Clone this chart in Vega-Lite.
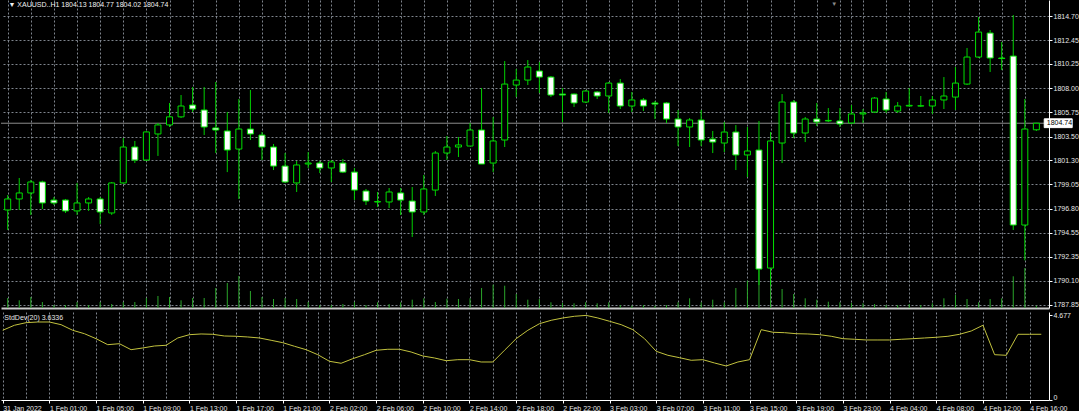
{
  "$schema": "https://vega.github.io/schema/vega-lite/v6.json",
  "background": "#000000",
  "padding": 0,
  "autosize": {"type": "pad"},
  "config": {"view": {"stroke": null}, "font": "Liberation Sans", "axis": {"labelOverlap": false}},
  "spacing": 2,
  "datasets": {
    "bars": [
      {"i":0,"o":1796.68,"h":1798.07,"l":1794.82,"c":1797.70,"v":300,"sd":3.854},
      {"i":1,"o":1797.70,"h":1799.65,"l":1796.68,"c":1798.26,"v":231,"sd":4.131},
      {"i":2,"o":1798.26,"h":1799.47,"l":1796.22,"c":1799.28,"v":330,"sd":4.275},
      {"i":3,"o":1799.28,"h":1799.40,"l":1796.77,"c":1797.33,"v":180,"sd":4.313},
      {"i":4,"o":1797.60,"h":1797.88,"l":1797.14,"c":1797.33,"v":90,"sd":4.313},
      {"i":5,"o":1797.60,"h":1797.70,"l":1796.40,"c":1796.59,"v":90,"sd":4.164},
      {"i":6,"o":1796.59,"h":1799.19,"l":1796.22,"c":1797.33,"v":180,"sd":3.854},
      {"i":7,"o":1797.33,"h":1797.88,"l":1796.59,"c":1797.70,"v":90,"sd":3.666},
      {"i":8,"o":1797.70,"h":1797.88,"l":1795.37,"c":1796.49,"v":180,"sd":3.390},
      {"i":9,"o":1796.40,"h":1799.28,"l":1796.22,"c":1799.19,"v":120,"sd":3.058},
      {"i":10,"o":1799.19,"h":1803.36,"l":1799.09,"c":1802.53,"v":180,"sd":3.113},
      {"i":11,"o":1802.53,"h":1803.09,"l":1801.04,"c":1801.32,"v":180,"sd":2.782},
      {"i":12,"o":1801.32,"h":1804.00,"l":1801.23,"c":1803.93,"v":300,"sd":2.876},
      {"i":13,"o":1803.74,"h":1804.76,"l":1801.70,"c":1804.58,"v":360,"sd":2.986},
      {"i":14,"o":1804.58,"h":1806.62,"l":1804.39,"c":1805.33,"v":330,"sd":3.025},
      {"i":15,"o":1805.33,"h":1807.36,"l":1805.22,"c":1806.34,"v":231,"sd":3.429},
      {"i":16,"o":1806.43,"h":1808.10,"l":1805.78,"c":1806.06,"v":300,"sd":3.611},
      {"i":17,"o":1805.97,"h":1808.10,"l":1803.64,"c":1804.39,"v":300,"sd":3.650},
      {"i":18,"o":1804.30,"h":1808.57,"l":1801.97,"c":1804.11,"v":600,"sd":3.633},
      {"i":19,"o":1804.02,"h":1805.78,"l":1800.20,"c":1802.25,"v":750,"sd":3.539},
      {"i":20,"o":1802.34,"h":1806.99,"l":1797.70,"c":1804.20,"v":960,"sd":3.523},
      {"i":21,"o":1804.20,"h":1807.83,"l":1803.18,"c":1803.74,"v":510,"sd":3.484},
      {"i":22,"o":1803.64,"h":1803.93,"l":1801.32,"c":1802.53,"v":330,"sd":3.429},
      {"i":23,"o":1802.53,"h":1802.81,"l":1800.39,"c":1800.76,"v":270,"sd":3.301},
      {"i":24,"o":1800.76,"h":1801.97,"l":1799.19,"c":1799.28,"v":300,"sd":3.169},
      {"i":25,"o":1799.19,"h":1801.23,"l":1798.35,"c":1800.86,"v":270,"sd":2.970},
      {"i":26,"o":1800.95,"h":1802.06,"l":1800.58,"c":1801.04,"v":180,"sd":2.782},
      {"i":27,"o":1801.04,"h":1801.23,"l":1800.11,"c":1800.58,"v":90,"sd":2.505},
      {"i":28,"o":1800.58,"h":1801.32,"l":1799.28,"c":1801.14,"v":90,"sd":2.140},
      {"i":29,"o":1801.04,"h":1801.42,"l":1800.11,"c":1800.20,"v":120,"sd":2.030},
      {"i":30,"o":1800.20,"h":1800.58,"l":1797.60,"c":1798.53,"v":180,"sd":2.284},
      {"i":31,"o":1798.44,"h":1798.63,"l":1797.14,"c":1797.51,"v":90,"sd":2.505},
      {"i":32,"o":1797.42,"h":1798.35,"l":1796.96,"c":1797.46,"v":171,"sd":2.748},
      {"i":33,"o":1797.42,"h":1798.72,"l":1796.86,"c":1798.35,"v":120,"sd":2.804},
      {"i":34,"o":1798.26,"h":1798.72,"l":1796.21,"c":1797.60,"v":171,"sd":2.804},
      {"i":35,"o":1797.51,"h":1798.81,"l":1794.17,"c":1796.49,"v":249,"sd":2.654},
      {"i":36,"o":1796.49,"h":1799.93,"l":1796.21,"c":1798.63,"v":291,"sd":2.433},
      {"i":37,"o":1798.53,"h":1802.16,"l":1797.98,"c":1801.97,"v":180,"sd":2.323},
      {"i":38,"o":1801.97,"h":1803.55,"l":1801.32,"c":1802.53,"v":279,"sd":2.173},
      {"i":39,"o":1802.53,"h":1803.46,"l":1801.60,"c":1802.72,"v":270,"sd":2.229},
      {"i":40,"o":1802.62,"h":1804.76,"l":1802.62,"c":1804.11,"v":291,"sd":2.229},
      {"i":41,"o":1804.11,"h":1808.01,"l":1800.95,"c":1800.95,"v":600,"sd":2.101},
      {"i":42,"o":1801.04,"h":1805.31,"l":1800.20,"c":1803.09,"v":699,"sd":2.101},
      {"i":43,"o":1803.18,"h":1810.52,"l":1802.53,"c":1808.38,"v":669,"sd":2.748},
      {"i":44,"o":1808.29,"h":1809.78,"l":1807.17,"c":1808.75,"v":420,"sd":3.390},
      {"i":45,"o":1808.75,"h":1810.61,"l":1808.29,"c":1809.96,"v":249,"sd":3.854},
      {"i":46,"o":1809.59,"h":1810.43,"l":1807.55,"c":1809.03,"v":270,"sd":4.219},
      {"i":47,"o":1809.03,"h":1809.13,"l":1807.17,"c":1807.36,"v":171,"sd":4.407},
      {"i":48,"o":1807.45,"h":1808.01,"l":1804.85,"c":1807.36,"v":150,"sd":4.535},
      {"i":49,"o":1807.45,"h":1807.50,"l":1806.25,"c":1806.62,"v":141,"sd":4.629},
      {"i":50,"o":1806.71,"h":1807.83,"l":1806.62,"c":1807.73,"v":171,"sd":4.677},
      {"i":51,"o":1807.64,"h":1807.73,"l":1806.99,"c":1807.27,"v":141,"sd":4.535},
      {"i":52,"o":1807.27,"h":1808.57,"l":1805.69,"c":1808.47,"v":171,"sd":4.352},
      {"i":53,"o":1808.47,"h":1808.85,"l":1806.06,"c":1806.34,"v":90,"sd":4.164},
      {"i":54,"o":1806.34,"h":1807.64,"l":1805.78,"c":1806.90,"v":69,"sd":3.888},
      {"i":55,"o":1806.90,"h":1807.08,"l":1805.87,"c":1806.34,"v":90,"sd":3.390},
      {"i":56,"o":1806.62,"h":1806.80,"l":1805.13,"c":1806.52,"v":69,"sd":2.693},
      {"i":57,"o":1806.62,"h":1806.71,"l":1804.76,"c":1805.13,"v":90,"sd":2.472},
      {"i":58,"o":1805.13,"h":1805.97,"l":1802.62,"c":1804.39,"v":171,"sd":2.339},
      {"i":59,"o":1804.39,"h":1805.22,"l":1802.53,"c":1805.04,"v":291,"sd":2.195},
      {"i":60,"o":1805.04,"h":1805.97,"l":1802.62,"c":1803.18,"v":171,"sd":2.229},
      {"i":61,"o":1803.27,"h":1804.02,"l":1801.97,"c":1802.99,"v":249,"sd":2.046},
      {"i":62,"o":1802.90,"h":1804.85,"l":1802.06,"c":1803.92,"v":171,"sd":1.880},
      {"i":63,"o":1803.92,"h":1804.57,"l":1800.39,"c":1801.79,"v":600,"sd":2.101},
      {"i":64,"o":1801.79,"h":1804.39,"l":1799.74,"c":1802.16,"v":819,"sd":2.229},
      {"i":65,"o":1802.25,"h":1804.95,"l":1789.70,"c":1791.19,"v":1140,"sd":3.888},
      {"i":66,"o":1791.28,"h":1803.92,"l":1789.70,"c":1803.09,"v":1200,"sd":3.744},
      {"i":67,"o":1802.90,"h":1807.45,"l":1801.04,"c":1806.71,"v":570,"sd":3.722},
      {"i":68,"o":1806.71,"h":1806.90,"l":1803.36,"c":1803.83,"v":420,"sd":3.666},
      {"i":69,"o":1803.83,"h":1805.32,"l":1802.99,"c":1805.13,"v":291,"sd":3.650},
      {"i":70,"o":1805.13,"h":1806.62,"l":1804.48,"c":1804.85,"v":249,"sd":3.611},
      {"i":71,"o":1804.95,"h":1806.15,"l":1804.85,"c":1805.00,"v":189,"sd":3.523},
      {"i":72,"o":1804.95,"h":1806.15,"l":1804.39,"c":1804.67,"v":171,"sd":3.390},
      {"i":73,"o":1804.76,"h":1806.43,"l":1804.67,"c":1805.60,"v":150,"sd":3.357},
      {"i":74,"o":1805.60,"h":1806.06,"l":1804.76,"c":1805.69,"v":141,"sd":3.318},
      {"i":75,"o":1805.78,"h":1807.17,"l":1805.69,"c":1807.08,"v":120,"sd":3.318},
      {"i":76,"o":1806.99,"h":1807.64,"l":1805.69,"c":1805.97,"v":90,"sd":3.318},
      {"i":77,"o":1805.87,"h":1806.71,"l":1805.69,"c":1806.34,"v":90,"sd":3.357},
      {"i":78,"o":1806.34,"h":1808.01,"l":1806.29,"c":1806.40,"v":120,"sd":3.390},
      {"i":79,"o":1806.34,"h":1807.27,"l":1806.25,"c":1806.36,"v":90,"sd":3.429},
      {"i":80,"o":1806.34,"h":1807.27,"l":1805.60,"c":1806.90,"v":141,"sd":3.467},
      {"i":81,"o":1806.90,"h":1809.03,"l":1806.06,"c":1807.27,"v":291,"sd":3.523},
      {"i":82,"o":1807.17,"h":1809.96,"l":1805.97,"c":1808.47,"v":390,"sd":3.633},
      {"i":83,"o":1808.38,"h":1811.73,"l":1808.29,"c":1810.89,"v":270,"sd":3.816},
      {"i":84,"o":1810.89,"h":1814.61,"l":1810.80,"c":1813.21,"v":171,"sd":4.131},
      {"i":85,"o":1813.12,"h":1813.40,"l":1809.50,"c":1810.80,"v":270,"sd":2.505},
      {"i":86,"o":1810.80,"h":1812.29,"l":1809.68,"c":1810.75,"v":291,"sd":2.472},
      {"i":87,"o":1810.98,"h":1814.79,"l":1794.82,"c":1795.28,"v":951,"sd":3.633},
      {"i":88,"o":1795.28,"h":1806.99,"l":1792.00,"c":1804.20,"v":1200,"sd":3.633},
      {"i":89,"o":1804.13,"h":1804.77,"l":1804.02,"c":1804.74,"v":69,"sd":3.6336}
    ]
  },
  "vconcat": [
    {
      "width": 1048,
      "height": 308,
      "data": {"name": "bars"},
      "layer": [
        {
          "mark": {"type": "rule", "color": "#2aa52a", "strokeWidth": 1},
          "encoding": {
            "x": {"field": "i", "type": "quantitative", "title": null,
              "scale": {"domain": [-0.146, 89.66], "nice": false, "zero": false},
              "axis": {"orient": "bottom", "values": [0,2,4,6,8,10,12,14,16,18,20,22,24,26,27,28,30,32,34,36,38,40,42,44,46,48,50,52,54,56,58,60,62,64,66,68,70,72,73,74,76,78,80,82,84,86,88],
                "tickCount": 200,
                "labels": false, "ticks": false, "domain": true, "domainColor": "#c8c8c8", "domainWidth": 2,
                "grid": true, "gridColor": "#8c929c", "gridDash": [2, 2], "gridOpacity": 0.9, "gridWidth": 1}},
            "y": {"field": "v", "type": "quantitative", "title": null, "scale": {"domain": [0, 9240], "nice": false, "zero": true}, "axis": null},
            "y2": {"datum": 0}
          }
        },
        {
          "layer": [
            {
              "data": {"values": [{"p": 1804.74}]},
              "mark": {"type": "rule", "color": "#8c8c8c", "strokeWidth": 1},
              "encoding": {
                "y": {"field": "p", "type": "quantitative", "title": null,
                  "scale": {"domain": [1787.57, 1816.19], "nice": false, "zero": false},
                  "axis": {"orient": "right", "values": [1787.85, 1790.10, 1792.35, 1794.55, 1796.80, 1799.05, 1801.30, 1803.50, 1805.75, 1808.00, 1810.25, 1812.45, 1814.70],
                    "tickCount": 100,
                    "format": ".2f", "grid": true, "gridColor": "#8c929c", "gridDash": [2, 2], "gridOpacity": 0.9,
                    "domain": true, "domainColor": "#ffffff", "ticks": true, "tickColor": "#ffffff", "tickSize": 3,
                    "labelColor": "#e6e6e6", "labelFontSize": 7, "labelPadding": 1, "labelFont": "Liberation Sans", "labelFlush": false,
                    "labelOverlap": {"expr": "false"}, "labelBound": false}}
              }
            },
            {
              "mark": {"type": "rule", "color": "#00d000", "strokeWidth": 1},
              "encoding": {
                "x": {"field": "i", "type": "quantitative", "title": null},
                "y": {"field": "l", "type": "quantitative", "title": null},
                "y2": {"field": "h"}
              }
            },
            {
              "mark": {"type": "bar", "size": 6, "stroke": "#00e000", "strokeWidth": 1},
              "encoding": {
                "x": {"field": "i", "type": "quantitative", "title": null},
                "y": {"field": "o", "type": "quantitative", "title": null},
                "y2": {"field": "c"},
                "fill": {"condition": {"test": "datum.c >= datum.o", "value": "#000000"}, "value": "#ffffff"}
              }
            },
            {
              "data": {"values": [{"t": "▼ XAUUSD..H1  1804.13 1804.77 1804.02 1804.74"}]},
              "mark": {"type": "text", "align": "left", "baseline": "middle", "color": "#f0f0f0", "fontSize": 7, "font": "Liberation Sans"},
              "encoding": {
                "x": {"datum": 0.07, "type": "quantitative"},
                "y": {"datum": 1815.68, "type": "quantitative"},
                "text": {"field": "t"}
              }
            },
            {
              "data": {"values": [{"t": "▼"}]},
              "mark": {"type": "text", "align": "center", "baseline": "middle", "color": "#8a8a8a", "fontSize": 6},
              "encoding": {
                "x": {"datum": 71.5, "type": "quantitative"},
                "y": {"datum": 1815.78, "type": "quantitative"},
                "text": {"field": "t"}
              }
            },
            {
              "data": {"values": [{"a": 1805.15, "b": 1804.33}]},
              "mark": {"type": "rect", "fill": "#ffffff", "stroke": "#ffffff"},
              "encoding": {
                "x": {"datum": 89.68, "type": "quantitative"},
                "x2": {"datum": 92.1},
                "y": {"field": "a", "type": "quantitative", "title": null},
                "y2": {"field": "b"}
              }
            },
            {
              "data": {"values": [{"p": 1804.74, "t": "1804.74"}]},
              "mark": {"type": "text", "align": "left", "baseline": "middle", "color": "#000000", "fontSize": 7, "font": "Liberation Sans"},
              "encoding": {
                "x": {"datum": 89.9, "type": "quantitative"},
                "y": {"field": "p", "type": "quantitative", "title": null},
                "text": {"field": "t"}
              }
            }
          ]
        }
      ],
      "resolve": {"scale": {"y": "independent"}, "axis": {"y": "independent"}}
    },
    {
      "width": 1048,
      "height": 88,
      "data": {"name": "bars"},
      "layer": [
        {
          "mark": {"type": "line", "color": "#c2c23e", "strokeWidth": 1},
          "encoding": {
            "x": {"field": "i", "type": "quantitative", "title": null,
              "scale": {"domain": [-0.146, 89.66], "nice": false, "zero": false},
              "axis": {"orient": "bottom", "values": [0,2,4,6,8,10,12,14,16,18,20,22,24,26,27,28,30,32,34,36,38,40,42,44,46,48,50,52,54,56,58,60,62,64,66,68,70,72,73,74,76,78,80,82,84,86,88],
                "tickCount": 200,
                "labelExpr": "datum.value % 4 == 0 ? ['31 Jan 2022','1 Feb 01:00','1 Feb 05:00','1 Feb 09:00','1 Feb 13:00','1 Feb 17:00','1 Feb 21:00','2 Feb 02:00','2 Feb 06:00','2 Feb 10:00','2 Feb 14:00','2 Feb 18:00','2 Feb 22:00','3 Feb 03:00','3 Feb 07:00','3 Feb 11:00','3 Feb 15:00','3 Feb 19:00','3 Feb 23:00','4 Feb 04:00','4 Feb 08:00','4 Feb 12:00','4 Feb 16:00'][datum.value / 4] : ''",
                "labelAlign": "left", "labelBaseline": "top", "labelPadding": 1, "labelOverlap": {"expr": "false"}, "labelBound": false, "labelFlush": false,
                "labelColor": "#e6e6e6", "labelFontSize": 7, "labelFont": "Liberation Sans",
                "ticks": true, "tickSize": 3, "tickColor": "#ffffff",
                "tickOpacity": {"condition": {"test": "datum.value % 4 == 0", "value": 1}, "value": 0},
                "domain": true, "domainColor": "#ffffff",
                "grid": true, "gridColor": "#8c929c", "gridDash": [2, 2], "gridOpacity": 0.9}},
            "y": {"field": "sd", "type": "quantitative", "title": null,
              "scale": {"domain": [0, 4.865], "nice": false, "zero": true},
              "axis": {"orient": "right", "values": [0, 4.677], "tickCount": 10, "labelExpr": "datum.value == 0 ? '0' : '4.677'",
                "grid": false, "domain": true, "domainColor": "#ffffff", "ticks": true, "tickColor": "#ffffff", "tickSize": 3,
                "labelColor": "#e6e6e6", "labelFontSize": 7, "labelPadding": 1, "labelFont": "Liberation Sans", "labelFlush": true}}
          }
        },
        {
          "data": {"values": [{"t": "StdDev(20) 3.6336"}]},
          "mark": {"type": "text", "align": "left", "baseline": "middle", "color": "#e6e6e6", "fontSize": 7, "font": "Liberation Sans"},
          "encoding": {
            "x": {"datum": 0.14, "type": "quantitative"},
            "y": {"datum": 4.55, "type": "quantitative"},
            "text": {"field": "t"}
          }
        }
      ]
    }
  ]
}
